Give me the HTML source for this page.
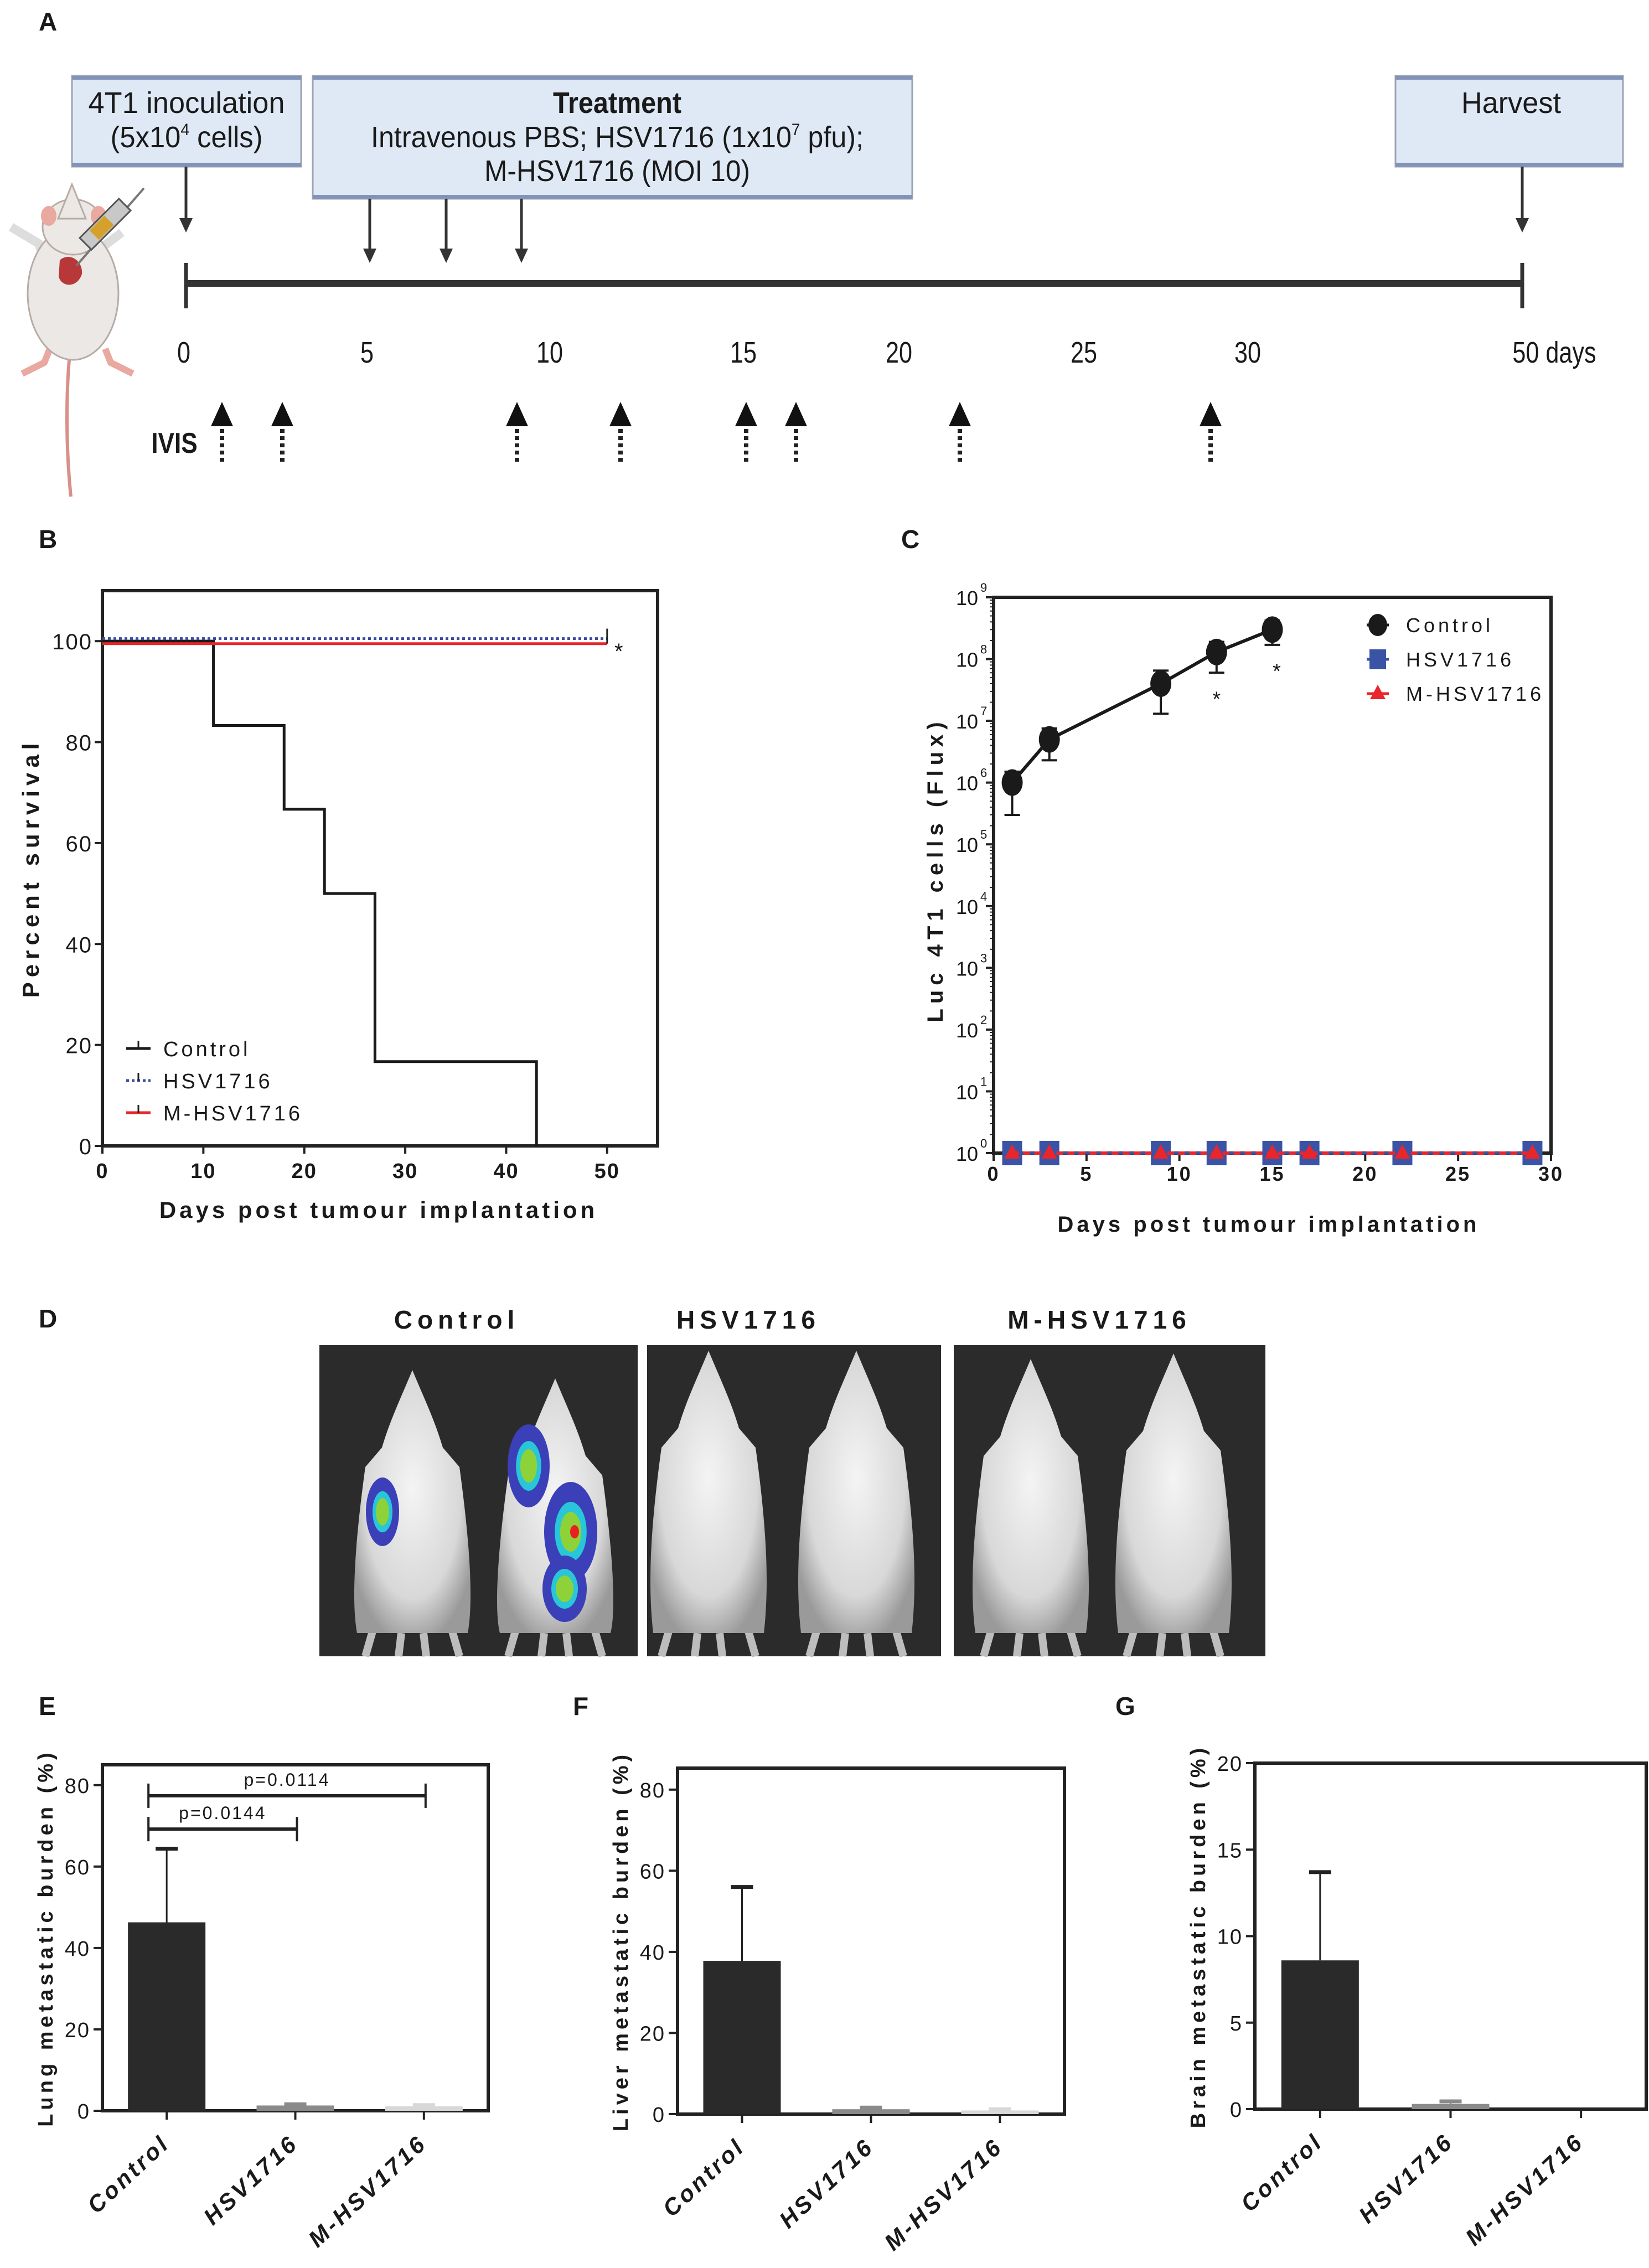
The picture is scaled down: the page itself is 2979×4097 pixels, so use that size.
<!DOCTYPE html>
<html><head><meta charset="utf-8">
<style>
html,body{margin:0;padding:0;background:#fff;}
svg{display:block;}
text{font-family:"Liberation Sans",sans-serif;fill:#1a1a1a;}
</style></head>
<body>
<svg id="fig" xmlns="http://www.w3.org/2000/svg" width="2979" height="4097" viewBox="0 0 2979 4097">
<defs>
<radialGradient id="mouseG" cx="50%" cy="45%" r="60%">
<stop offset="0%" stop-color="#f4f4f4"/><stop offset="70%" stop-color="#d8d8d8"/><stop offset="100%" stop-color="#9a9a9a"/>
</radialGradient>
</defs>
<text x="70" y="55" font-size="46" font-weight="bold">A</text>
<text x="70" y="990" font-size="46" font-weight="bold">B</text>
<text x="1628" y="990" font-size="46" font-weight="bold">C</text>
<text x="70" y="2398" font-size="46" font-weight="bold">D</text>
<text x="70" y="3098" font-size="46" font-weight="bold">E</text>
<text x="1035" y="3098" font-size="46" font-weight="bold">F</text>
<text x="2015" y="3098" font-size="46" font-weight="bold">G</text>

<g id="panelA">
 <g>
  <path d="M128 897 C118 800 120 700 126 640" stroke="#d89088" stroke-width="6" fill="none"/>
  <path d="M40 675 L80 655 L90 630 M190 630 L200 655 L240 675" stroke="#e9a8a0" stroke-width="12" fill="none"/>
  <path d="M20 410 L70 440 L80 470 M220 420 L180 450 L175 470" stroke="#ddd" stroke-width="16" fill="none"/>
  <ellipse cx="132" cy="530" rx="82" ry="120" fill="#ece8e5" stroke="#b7aca6" stroke-width="3"/>
  <ellipse cx="132" cy="410" rx="55" ry="50" fill="#ece8e5" stroke="#b7aca6" stroke-width="3"/>
  <path d="M105 395 L130 333 L155 395 Z" fill="#ece8e5" stroke="#b7aca6" stroke-width="3"/>
  <ellipse cx="88" cy="390" rx="14" ry="18" fill="#e9a8a0"/><ellipse cx="178" cy="390" rx="14" ry="18" fill="#e9a8a0"/>
  <path d="M108 470 C125 455 150 470 148 495 C140 520 112 520 106 500 Z" fill="#b8383a"/>
  <path d="M138 480 L260 340" stroke="#777" stroke-width="4"/>
  <rect x="175" y="355" width="30" height="100" fill="#c8c8c8" stroke="#555" stroke-width="3" transform="rotate(45 190 405)"/>
  <rect x="178" y="395" width="24" height="38" fill="#d4a22c" transform="rotate(45 190 405)"/>
 </g>
 <g>
  <rect x="130" y="137" width="414" height="164" fill="#dfe9f6" stroke="#9aa4b5" stroke-width="3"/>
  <rect x="130" y="137" width="414" height="7" fill="#8393b8"/><rect x="130" y="294" width="414" height="7" fill="#8393b8"/>
  <text x="337" y="204" font-size="54" text-anchor="middle" textLength="355" lengthAdjust="spacingAndGlyphs" fill="#333">4T1 inoculation</text>
  <text x="337" y="266" font-size="54" text-anchor="middle" textLength="275" lengthAdjust="spacingAndGlyphs" fill="#333">(5x10<tspan font-size="30" dy="-22">4</tspan><tspan dy="22"> cells)</tspan></text>
 </g>
 <g>
  <rect x="565" y="137" width="1083" height="222" fill="#dfe9f6" stroke="#9aa4b5" stroke-width="3"/>
  <rect x="565" y="137" width="1083" height="7" fill="#8393b8"/><rect x="565" y="352" width="1083" height="7" fill="#8393b8"/>
  <text x="1115" y="204" font-size="54" font-weight="bold" text-anchor="middle" textLength="232" lengthAdjust="spacingAndGlyphs" fill="#222">Treatment</text>
  <text x="1115" y="266" font-size="54" text-anchor="middle" textLength="890" lengthAdjust="spacingAndGlyphs" fill="#333">Intravenous PBS; HSV1716 (1x10<tspan font-size="30" dy="-22">7</tspan><tspan dy="22"> pfu);</tspan></text>
  <text x="1115" y="327" font-size="54" text-anchor="middle" textLength="480" lengthAdjust="spacingAndGlyphs" fill="#333">M-HSV1716 (MOI 10)</text>
 </g>
 <g>
  <rect x="2521" y="137" width="411" height="164" fill="#dfe9f6" stroke="#9aa4b5" stroke-width="3"/>
  <rect x="2521" y="137" width="411" height="7" fill="#8393b8"/><rect x="2521" y="294" width="411" height="7" fill="#8393b8"/>
  <text x="2730" y="204" font-size="54" text-anchor="middle" textLength="180" lengthAdjust="spacingAndGlyphs" fill="#333">Harvest</text>
 </g>
 <g id="timeline"></g>
</g>

<g id="panelB"></g>
<g id="panelC"></g>
<g id="panelD"></g>
<g id="panelE"></g>
<g id="panelF"></g>
<g id="panelG"></g>
</svg>

<script>
const NS="http://www.w3.org/2000/svg";
function mk(parent,tag,attrs,txt){const e=document.createElementNS(NS,tag);for(const k in attrs)e.setAttribute(k,attrs[k]);if(txt!==undefined)e.textContent=txt;parent.appendChild(e);return e;}

/* ---------- Panel A data ---------- */
const timelineTickLabels=["0","5","10","15","20","25","30","50 days"];
const timelineTickX=[332,663,993,1343,1624,1958,2254,2808];
const treatmentDays=[5,7,9];
const ivisDays=[1,2.5,9,12,15,16.5,22,29];
(function(){
 const g=document.getElementById('timeline');
 const ivisX=[401,510,934,1121,1348,1438,1734,2187];
 const trX=[668,806,942];
 mk(g,'line',{x1:336,y1:512,x2:2750,y2:512,stroke:'#333','stroke-width':12});
 mk(g,'line',{x1:336,y1:475,x2:336,y2:557,stroke:'#333','stroke-width':7});
 mk(g,'line',{x1:2750,y1:475,x2:2750,y2:557,stroke:'#333','stroke-width':7});
 timelineTickLabels.forEach((t,i)=>{
  const e=mk(g,'text',{x:timelineTickX[i],y:655,'font-size':54,'text-anchor':'middle',fill:'#333',transform:`translate(${timelineTickX[i]},0) scale(0.8,1) translate(${-timelineTickX[i]},0)`},t);
  
  
 });
 function down(x,y1,y2){mk(g,'line',{x1:x,y1:y1,x2:x,y2:y2-22,stroke:'#333','stroke-width':5});mk(g,'path',{d:`M${x-12} ${y2-26} L${x+12} ${y2-26} L${x} ${y2} Z`,fill:'#333'});}
 down(336,301,420); down(2750,301,420);
 treatmentDays.forEach((d,i)=>down(trX[i],359,475));
 ivisDays.forEach((d,i)=>{
  const x=ivisX[i];
  const a=mk(g,'path',{d:`M${x-20} ${770} L${x+20} ${770} L${x} ${726} Z`,fill:'#111'});
  
  
  mk(g,'line',{x1:x,y1:775,x2:x,y2:840,stroke:'#222','stroke-width':8,'stroke-dasharray':'7 6'});
 });
 const iv=mk(g,'text',{x:315,y:818,'font-size':52,'font-weight':'bold','text-anchor':'middle',fill:'#333',transform:'translate(315,0) scale(0.85,1) translate(-315,0)'},'IVIS');
 
 
})();

/* ---------- Panel B: survival ---------- */
const survCategories=["Control","HSV1716","M-HSV1716"];
const survControlDays=[0,11,18,22,27,43];
const survControlPct=[100,83.3,66.7,50,16.7,0];
const survEndDay=50;
const survHSVPct=100.5;
const survMPct=99.5;
const survXTicks=[0,10,20,30,40,50];
const survYTicks=[0,20,40,60,80,100];
(function(){
 const g=document.getElementById('panelB');
 const L=185,R=1188,T=1067,B=2070,xmax=55,ymax=110;
 const X=d=>L+d/xmax*(R-L), Y=v=>B-v/ymax*(B-T);
 const box=mk(g,'rect',{x:L,y:T,width:R-L,height:B-T,fill:'none',stroke:'#222','stroke-width':6});
 
 
 survYTicks.forEach(v=>{mk(g,'line',{x1:L-14,y1:Y(v),x2:L,y2:Y(v),stroke:'#222','stroke-width':4});
  const t=mk(g,'text',{x:L-18,y:Y(v)+15,'font-size':40,'text-anchor':'end','letter-spacing':2},String(v));
  
  });
 survXTicks.forEach(v=>{mk(g,'line',{x1:X(v),y1:B,x2:X(v),y2:B+14,stroke:'#222','stroke-width':4});
  const t=mk(g,'text',{x:X(v),y:B+58,'font-size':38,'font-weight':'bold','text-anchor':'middle','letter-spacing':2},String(v));
  
  });
 let d=`M${X(survControlDays[0])} ${Y(survControlPct[0])}`;
 for(let i=1;i<survControlDays.length;i++){d+=` H${X(survControlDays[i])} V${Y(survControlPct[i])}`;}
 const c=mk(g,'path',{d:d,fill:'none',stroke:'#1a1a1a','stroke-width':5});
 
 
 const m=mk(g,'line',{x1:L,y1:Y(survMPct),x2:X(survEndDay),y2:Y(survMPct),stroke:'#e8262c','stroke-width':5});
 
 
 const h=mk(g,'line',{x1:L,y1:Y(survHSVPct),x2:X(survEndDay),y2:Y(survHSVPct),stroke:'#3a4d9c','stroke-width':5,'stroke-dasharray':'5 5'});
 
 
 mk(g,'line',{x1:X(survEndDay),y1:Y(survHSVPct)-18,x2:X(survEndDay),y2:Y(survMPct),stroke:'#222','stroke-width':3});
 mk(g,'text',{x:1110,y:1190,'font-size':40},'*');
 const cols=['#1a1a1a','#3a4d9c','#e8262c'];
 survCategories.forEach((n,i)=>{
  const y=1902+i*58;
  mk(g,'line',{x1:228,y1:y-8,x2:272,y2:y-8,stroke:cols[i],'stroke-width':5,'stroke-dasharray':i==1?'5 5':'none'});
  mk(g,'line',{x1:250,y1:y-22,x2:250,y2:y-8,stroke:'#222','stroke-width':3});
  const t=mk(g,'text',{x:295,y:y+6,'font-size':38,'letter-spacing':5},n);
  
  
 });
 const xt=mk(g,'text',{x:684,y:2200,'font-size':42,'font-weight':'bold','text-anchor':'middle','letter-spacing':6},'Days post tumour implantation');
 
 
 const yt=mk(g,'text',{x:0,y:0,'font-size':42,'font-weight':'bold','text-anchor':'middle','letter-spacing':9,transform:'translate(70,1568) rotate(-90)'},'Percent survival');
 
 
})();

/* ---------- Panel C: luminescence ---------- */
const lumCategories=["Control","HSV1716","M-HSV1716"];
const lumControlDays=[1,3,9,12,15];
const lumControlMean=[1e6,5e6,4e7,1.3e8,3e8];
const lumControlLow=[3e5,2.3e6,1.3e7,6e7,1.7e8];
const lumControlHigh=[1.5e6,7.5e6,6.5e7,1.9e8,4.2e8];
const lumTreatDays=[1,3,9,12,15,17,22,29];
const lumHSVMean=[1,1,1,1,1,1,1,1];
const lumMMean=[1,1,1,1,1,1,1,1];
const lumXTicks=[0,5,10,15,20,25,30];
const lumYExponents=[0,1,2,3,4,5,6,7,8,9];
const lumSigDays=[12,15];
(function(){
 const g=document.getElementById('panelC');
 const L=1795,R=2802,T=1079,B=2083,xmax=30;
 const X=d=>L+d/xmax*(R-L), Y=v=>B-Math.log10(v)/9*(B-T);
 const fr=mk(g,'path',{d:`M${L} ${T} H${R} V${B} H${L} Z`,fill:'none',stroke:'#222','stroke-width':6});
 
 
 lumYExponents.forEach(e=>{
  const y=Y(Math.pow(10,e));
  mk(g,'line',{x1:L-14,y1:y,x2:L,y2:y,stroke:'#222','stroke-width':4});
  if(e<9){for(let k=2;k<10;k++){const yy=Y(k*Math.pow(10,e));mk(g,'line',{x1:L-7,y1:yy,x2:L,y2:yy,stroke:'#222','stroke-width':2});}}
  const t=mk(g,'text',{x:1767,y:y+14,'font-size':36,'text-anchor':'end'},'10');
  
  
  mk(g,'text',{x:1771,y:y-10,'font-size':22},String(e));
 });
 lumXTicks.forEach(v=>{mk(g,'line',{x1:X(v),y1:B,x2:X(v),y2:B+14,stroke:'#222','stroke-width':4});
  const t=mk(g,'text',{x:X(v),y:B+50,'font-size':36,'font-weight':'bold','text-anchor':'middle','letter-spacing':3},String(v));
  
  });
 let dh='',dm='';
 lumTreatDays.forEach((d,i)=>{dh+=(i?'L':'M')+X(d)+' '+Y(lumHSVMean[i])+' ';dm+=(i?'L':'M')+X(d)+' '+Y(lumMMean[i])+' ';});
 mk(g,'path',{d:dh,fill:'none',stroke:'#3a53a4','stroke-width':5});
 lumTreatDays.forEach((d,i)=>{const s=mk(g,'rect',{x:X(d)-18,y:Y(lumHSVMean[i])-22,width:36,height:44,fill:'#3a53a4'});
  
  });
 mk(g,'path',{d:dm,fill:'none',stroke:'#e8262c','stroke-width':6,'stroke-dasharray':'12 8'});
 lumTreatDays.forEach((d,i)=>{const x=X(d),y=Y(lumMMean[i]);const s=mk(g,'path',{d:`M${x} ${y-16} L${x+14} ${y+10} L${x-14} ${y+10} Z`,fill:'#e8262c'});
  
  });
 let dc='';
 lumControlDays.forEach((d,i)=>{dc+=(i?'L':'M')+X(d)+' '+Y(lumControlMean[i])+' ';});
 const cl=mk(g,'path',{d:dc,fill:'none',stroke:'#1a1a1a','stroke-width':6});
 
 
 lumControlDays.forEach((d,i)=>{
  const x=X(d);
  mk(g,'line',{x1:x,y1:Y(lumControlLow[i]),x2:x,y2:Y(lumControlHigh[i]),stroke:'#1a1a1a','stroke-width':4});
  mk(g,'line',{x1:x-14,y1:Y(lumControlLow[i]),x2:x+14,y2:Y(lumControlLow[i]),stroke:'#1a1a1a','stroke-width':4});
  mk(g,'line',{x1:x-14,y1:Y(lumControlHigh[i]),x2:x+14,y2:Y(lumControlHigh[i]),stroke:'#1a1a1a','stroke-width':4});
  const p=mk(g,'ellipse',{cx:x,cy:Y(lumControlMean[i]),rx:19,ry:24,fill:'#1a1a1a'});
  
  
 });
 lumSigDays.forEach(d=>{const i=lumControlDays.indexOf(d);mk(g,'text',{x:X(d)+(d==15?8:0),y:Y(lumControlLow[i])+60,'font-size':38,'text-anchor':'middle'},'*');});
 const lc=['#1a1a1a','#3a53a4','#e8262c'];
 lumCategories.forEach((n,i)=>{
  const y=1129+i*62,x=2489;
  mk(g,'line',{x1:x-20,y1:y,x2:x+20,y2:y,stroke:lc[i],'stroke-width':5});
  if(i==0)mk(g,'ellipse',{cx:x,cy:y,rx:17,ry:20,fill:lc[0]});
  if(i==1)mk(g,'rect',{x:x-15,y:y-18,width:30,height:36,fill:lc[1]});
  if(i==2)mk(g,'path',{d:`M${x} ${y-16} L${x+14} ${y+10} L${x-14} ${y+10} Z`,fill:lc[2]});
  const t=mk(g,'text',{x:2540,y:y+13,'font-size':36,'letter-spacing':6},n);
  
  
 });
 const xt=mk(g,'text',{x:2292,y:2225,'font-size':40,'font-weight':'bold','text-anchor':'middle','letter-spacing':6},'Days post tumour implantation');
 
 
 const yt=mk(g,'text',{x:0,y:0,'font-size':40,'font-weight':'bold','text-anchor':'middle','letter-spacing':9,transform:'translate(1703,1571) rotate(-90)'},'Luc 4T1 cells (Flux)');
 
 
})();

/* ---------- Panel D: IVIS images ---------- */
const ivisGroups=["Control","HSV1716","M-HSV1716"];
(function(){
 const g=document.getElementById('panelD');
 const panels=[[577,1152,825],[1169,1700,1352],[1723,2286,1986]];
 const mice=[[745,2475],[1003,2490],[1280,2440],[1547,2440],[1862,2455],[2120,2445]];
 ivisGroups.forEach((n,i)=>{
  const p=panels[i];
  const r=mk(g,'rect',{x:p[0],y:2430,width:p[1]-p[0],height:562,fill:'#2b2b2b'});
  
  
  const t=mk(g,'text',{x:p[2],y:2400,'font-size':46,'font-weight':'bold','text-anchor':'middle','letter-spacing':9},n);
  
  
 });
 mice.forEach(m=>{
  const [cx,top]=m;
  const mg=mk(g,'g',{});
  
  
  mk(mg,'path',{d:`M${cx-70} 2940 L${cx-85} 2992 M${cx+70} 2940 L${cx+85} 2992 M${cx-20} 2950 L${cx-25} 2992 M${cx+20} 2950 L${cx+25} 2992`,stroke:'#bdbdbd','stroke-width':14});
  mk(mg,'path',{d:`M${cx} ${top} C${cx+25} ${top+60} ${cx+40} ${top+90} ${cx+55} ${top+140} L${cx+85} ${top+175} C${cx+105} ${top+320} ${cx+110} ${top+420} ${cx+100} 2950 L${cx-100} 2950 C${cx-110} ${top+420} ${cx-105} ${top+320} ${cx-85} ${top+175} L${cx-55} ${top+140} C${cx-40} ${top+90} ${cx-25} ${top+60} ${cx} ${top} Z`,fill:'url(#mouseG)'});
 });
 const blobs=[[691,2731,30,62],[955,2648,38,75],[1031,2767,48,90],[1020,2870,40,60]];
 blobs.forEach(b=>{
  const e=mk(g,'ellipse',{cx:b[0],cy:b[1],rx:b[2],ry:b[3],fill:'#3b3fb8'});
  
  
  mk(g,'ellipse',{cx:b[0],cy:b[1],rx:b[2]*0.6,ry:b[3]*0.6,fill:'#28c6d8'});
  mk(g,'ellipse',{cx:b[0],cy:b[1],rx:b[2]*0.4,ry:b[3]*0.4,fill:'#8ed23a'});
 });
 mk(g,'ellipse',{cx:1038,cy:2767,rx:8,ry:12,fill:'#e82020'});
})();

/* ---------- Panels E/F/G ---------- */
const barCategories=["Control","HSV1716","M-HSV1716"];
const lungMeans=[46.3,1.3,1.1];
const lungErr=[64.4,1.6,1.4];
const liverMeans=[37.8,1.2,0.9];
const liverErr=[56,1.6,1.2];
const brainMeans=[8.6,0.3,0];
const brainErr=[13.7,0.45,0];
const lungTicks=[0,20,40,60,80];
const liverTicks=[0,20,40,60,80];
const brainTicks=[0,5,10,15,20];
const lungPValues=["p=0.0144","p=0.0114"];
const lungPLevels=[69.2,77.4];
const lungPTargets=[1,2];
function barChart(id,L,R,T,B,ymax,means,err,ticks,title){
 const g=document.getElementById(id);
 const n=barCategories.length, bw=(R-L)/n;
 const X=i=>L+bw*(i+0.5), Y=v=>B-v/ymax*(B-T);
 mk(g,'rect',{x:L,y:T,width:R-L,height:B-T,fill:'none',stroke:'#222','stroke-width':6});
 const cols=['#2a2a2a','#8a8a8a','#d8d8d8'];
 barCategories.forEach((c,i)=>{
  const x=X(i),w=140;
  if(err[i]>means[i]){mk(g,'line',{x1:x,y1:Y(means[i]),x2:x,y2:Y(err[i]),stroke:i==0?'#222':'#777','stroke-width':3});
   mk(g,'line',{x1:x-20,y1:Y(err[i]),x2:x+20,y2:Y(err[i]),stroke:i==0?'#222':cols[i],'stroke-width':7});}
  const b=mk(g,'rect',{x:x-w/2,y:Y(means[i]),width:w,height:B-Y(means[i]),fill:cols[i]});
  
  
  mk(g,'line',{x1:x,y1:B,x2:x,y2:B+16,stroke:'#222','stroke-width':4});
  const t=mk(g,'text',{x:0,y:0,'font-size':42,'font-weight':'bold','font-style':'italic','text-anchor':'end','letter-spacing':5,transform:`translate(${x+8},${B+62}) rotate(-43)`},c);
  
  
 });
 ticks.forEach(v=>{mk(g,'line',{x1:L-16,y1:Y(v),x2:L,y2:Y(v),stroke:'#222','stroke-width':4});
  const t=mk(g,'text',{x:L-22,y:Y(v)+14,'font-size':38,'text-anchor':'end','letter-spacing':2},String(v));
  
  });
 const yt=mk(g,'text',{x:0,y:0,'font-size':38,'font-weight':'bold','text-anchor':'middle','letter-spacing':7,transform:`translate(${L-90},${(T+B)/2}) rotate(-90)`},title);
 
 
 return {X,Y,g};
}
(function(){
 const e=barChart('panelE',185,882,3188,3813,85,lungMeans,lungErr,lungTicks,'Lung metastatic burden (%)');
 lungPValues.forEach((p,k)=>{
  const y=e.Y(lungPLevels[k]), x1=e.X(0)-33, x2=e.X(lungPTargets[k])+3;
  const l=mk(e.g,'line',{x1:x1,y1:y,x2:x2,y2:y,stroke:'#222','stroke-width':6});
  
  
  mk(e.g,'line',{x1:x1,y1:y-22,x2:x1,y2:y+22,stroke:'#222','stroke-width':4});
  mk(e.g,'line',{x1:x2,y1:y-22,x2:x2,y2:y+22,stroke:'#222','stroke-width':4});
  const t=mk(e.g,'text',{x:(x1+x2)/2,y:y-18,'font-size':32,'text-anchor':'middle','letter-spacing':3},p);
  
  
 });
 barChart('panelF',1224,1923,3194,3819,85.3,liverMeans,liverErr,liverTicks,'Liver metastatic burden (%)');
 barChart('panelG',2267,2974,3185,3810,20,brainMeans,brainErr,brainTicks,'Brain metastatic burden (%)');
})();
</script>
</body></html>
